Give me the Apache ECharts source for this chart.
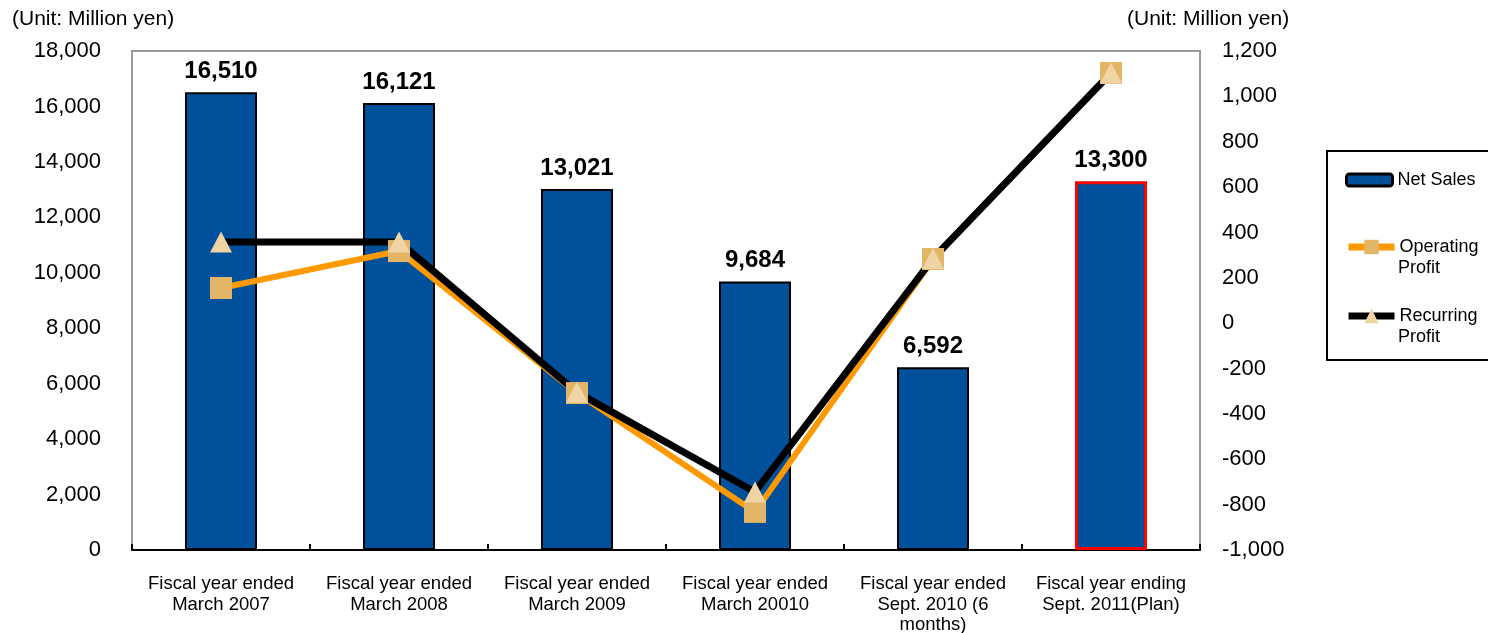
<!DOCTYPE html>
<html>
<head>
<meta charset="utf-8">
<title>Net Sales and Profit</title>
<script src="https://cdn.jsdelivr.net/npm/echarts@6/dist/echarts.min.js"></script>
<style>
  html, body { margin: 0; padding: 0; background: #fff; }
  #chart { width: 1488px; height: 633px; }
</style>
</head>
<body>
<div id="chart"></div>
<script>
'use strict';

const categories = [
  'Fiscal year ended\nMarch 2007',
  'Fiscal year ended\nMarch 2008',
  'Fiscal year ended\nMarch 2009',
  'Fiscal year ended\nMarch 20010',
  'Fiscal year ended\nSept. 2010 (6\nmonths)',
  'Fiscal year ending\nSept. 2011(Plan)'
];
const netSales = [16510, 16121, 13021, 9684, 6592, 13300];
const operatingProfit = [155, 318, -308, -832, 283, 1103];
const recurringProfit = [358, 358, -305, -744, 285, 1103];

const font = 'Arial, "Liberation Sans", sans-serif';

function fmt(v) {
  return v.toLocaleString('en-US');
}

const barData = netSales.map((v, i) => {
  if (i === netSales.length - 1) {
    return { value: v, itemStyle: { borderColor: '#FF0000', borderWidth: 3 } };
  }
  return v;
});

// one legend per entry so rows sit where the reference has them;
// the icon lines up with the first word, second word is put below
function legendBox(item, iconY, h) {
  return {
    data: [item],
    left: 1345,
    top: iconY - h / 2,
    itemWidth: 46,
    itemHeight: h,
    padding: 0,
    formatter: n => n.split(' ')[0] === 'Net' ? n : n.split(' ')[0],
    textStyle: { fontFamily: font, fontSize: 18, color: '#000' }
  };
}

function legendLine2(text, y) {
  return {
    type: 'text', left: 1398, top: y - 10,
    style: { text: text, font: '18px ' + font, fill: '#000' }
  };
}

const chart = echarts.init(document.getElementById('chart'));
chart.setOption({
  animation: false,
  textStyle: { fontFamily: font },
  grid: {
    left: 132, right: 288, top: 51, bottom: 83,
    outerBoundsMode: 'none',
    show: true, borderColor: '#999', borderWidth: 2
  },
  legend: [
    legendBox({ name: 'Net Sales', itemStyle: { borderWidth: 3 } }, 177, 12),
    legendBox({ name: 'Operating Profit', lineStyle: { width: 7 } }, 247, 18),
    legendBox({ name: 'Recurring Profit', lineStyle: { width: 7 } }, 316, 18)
  ],
  graphic: [
    {
      type: 'rect',
      shape: { x: 1327, y: 151, width: 175, height: 209 },
      style: { fill: 'none', stroke: '#000', lineWidth: 2 }
    },
    legendLine2('Profit', 269),
    legendLine2('Profit', 338),
    {
      type: 'text', left: 12, top: 9,
      style: { text: '(Unit: Million yen)', font: '21px ' + font, fill: '#000' }
    },
    {
      type: 'text', left: 1127, top: 9,
      style: { text: '(Unit: Million yen)', font: '21px ' + font, fill: '#000' }
    }
  ],
  xAxis: {
    type: 'category',
    data: categories,
    axisLine: { lineStyle: { color: '#000', width: 2 } },
    axisTick: { show: true, inside: true, length: 6, lineStyle: { color: '#000', width: 2 } },
    axisLabel: {
      interval: 0, margin: 24, color: '#000', fontSize: 18.5, lineHeight: 20.5,
      fontFamily: font
    }
  },
  yAxis: [
    {
      type: 'value', min: 0, max: 18000, interval: 2000,
      splitLine: { show: false },
      axisLine: { show: true, lineStyle: { color: '#999', width: 2 } },
      axisTick: { show: false },
      axisLabel: {
        color: '#000', fontSize: 22, margin: 31, fontFamily: font,
        formatter: v => fmt(v)
      }
    },
    {
      type: 'value', min: -1000, max: 1200, interval: 200,
      splitLine: { show: false },
      axisLine: { show: false },
      axisTick: { show: false },
      axisLabel: {
        color: '#000', fontSize: 22, margin: 22, fontFamily: font,
        formatter: v => fmt(v)
      }
    }
  ],
  series: [
    {
      name: 'Net Sales',
      type: 'bar',
      data: barData,
      barWidth: 72,
      itemStyle: { color: '#00509B', borderColor: '#000', borderWidth: 2 },
      label: {
        show: true, position: 'top', distance: 9, color: '#000',
        fontSize: 24, fontWeight: 'bold', fontFamily: font,
        formatter: p => fmt(p.value)
      }
    },
    {
      name: 'Operating Profit',
      type: 'line',
      yAxisIndex: 1,
      data: operatingProfit,
      symbol: 'rect',
      symbolSize: 22,
      lineStyle: { color: '#FF9900', width: 6 },
      itemStyle: { color: '#E3B567', borderWidth: 0 }
    },
    {
      name: 'Recurring Profit',
      type: 'line',
      yAxisIndex: 1,
      data: recurringProfit,
      symbol: 'triangle',
      symbolSize: [22, 21],
      lineStyle: { color: '#000', width: 7 },
      itemStyle: { color: '#F0D4A6', borderWidth: 0 }
    }
  ]
});
</script>
</body>
</html>
